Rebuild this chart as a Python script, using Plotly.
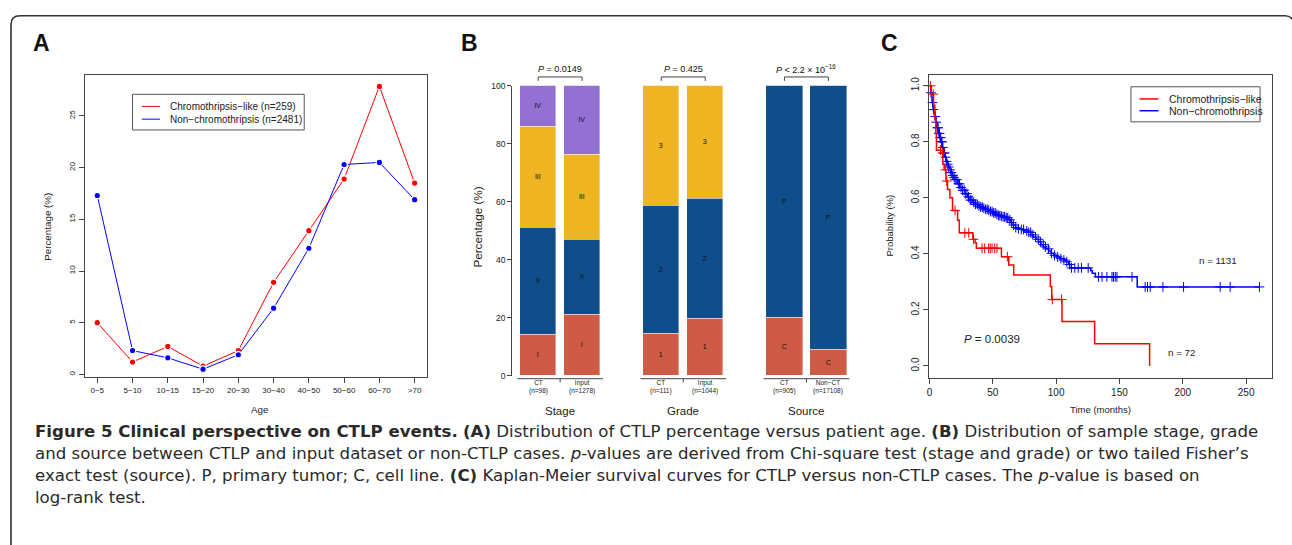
import numpy as np
import plotly.graph_objects as go

# ---------------- data ----------------
# Panel A
age_groups = ["0\u22125", "5\u221210", "10\u221215", "15\u221220", "20\u221230", "30\u221240",
              "40\u221250", "50\u221260", "60\u221270", ">70"]
ct_like_pct = [5.0, 1.2, 2.7, 0.8, 2.3, 8.9, 13.9, 18.9, 27.85, 18.5]
non_ct_pct = [17.3, 2.3, 1.6, 0.5, 1.9, 6.4, 12.2, 20.3, 20.5, 16.9]
a_series_names = ["Chromothripsis\u2212like (n=259)", "Non\u2212chromothripsis (n=2481)"]

# Panel B
stage_levels = ["I", "II", "III", "IV"]
stage_ct = [14.3, 36.7, 34.7, 14.3]
stage_input = [21.2, 25.8, 29.2, 23.8]
grade_levels = ["1", "2", "3"]
grade_ct = [14.4, 44.1, 41.5]
grade_input = [19.6, 41.4, 39.0]
source_levels = ["C", "P"]
source_ct = [19.9, 80.1]
source_nonct = [9.1, 90.9]
bar_labels = ["CT<br>(n=98)", "Input<br>(n=1278)", "CT<br>(n=111)", "Input<br>(n=1044)",
              "CT<br>(n=905)", "Non\u2212CT<br>(n=17108)"]
group_titles = ["Stage", "Grade", "Source"]
group_pvalues = ["<i>P</i> = 0.0149", "<i>P</i> = 0.425",
                 "<i>P</i> < 2.2 \u00d7 10<sup>\u221216</sup>"]

# Panel C (Kaplan-Meier)
red_t = [0, 1.5, 3.2, 4.2, 5.0, 5.5, 8.9, 10.5, 11.6, 13.0, 14.2, 16.1, 18.2, 22.2, 23.5,
         34.2, 36.0, 37.0, 56.8, 62.6, 66.5, 95.4, 96.5, 104.6, 130.4, 173.8]
red_s = [1.0, 0.97, 0.93, 0.88, 0.83, 0.77, 0.76, 0.72, 0.70, 0.66, 0.63, 0.60, 0.555, 0.52, 0.475,
         0.452, 0.44, 0.42, 0.39, 0.36, 0.325, 0.284, 0.237, 0.159, 0.079, 0.0]
red_cens = [0.7, 3.0, 8.7, 10.3, 12.6, 13.6, 20.2, 27.9, 31.0, 34.7, 41.5, 43.6, 46.7, 48.0,
            49.4, 51.5, 53.3, 61.5, 97.0, 104.3]

blue_t = [0, 1, 2, 3, 4, 5, 6, 7, 8, 9, 10, 11, 12, 13, 14, 15, 16, 17, 18, 19, 20, 22, 24, 26,
          28, 30, 32, 34, 36, 38, 40, 42, 44, 46, 48, 50, 52, 54, 56, 58, 60, 62, 64, 66, 68,
          70, 72, 75, 78, 80, 82, 84, 86, 88, 90, 92, 94, 96, 98, 100, 103, 106, 108, 110, 112,
          127.3, 128.5, 131, 164, 261]
blue_s = [1.0, 0.975, 0.94, 0.915, 0.89, 0.87, 0.85, 0.83, 0.815, 0.80, 0.78, 0.76, 0.745, 0.73,
          0.72, 0.71, 0.70, 0.69, 0.68, 0.672, 0.665, 0.65, 0.637, 0.627, 0.615, 0.603, 0.592,
          0.584, 0.577, 0.571, 0.567, 0.563, 0.559, 0.556, 0.551, 0.546, 0.541, 0.537, 0.535,
          0.532, 0.529, 0.522, 0.512, 0.503, 0.494, 0.49, 0.487, 0.482, 0.477, 0.468, 0.46,
          0.452, 0.443, 0.433, 0.425, 0.418, 0.41, 0.402, 0.395, 0.389, 0.383, 0.378, 0.372,
          0.362, 0.35, 0.34, 0.331, 0.318, 0.282, 0.282]
blue_cens = [1.2, 2.4, 3.1, 4.6, 5.3, 6.2, 6.8, 7.4, 7.9, 8.3, 8.8, 9.4, 9.9, 10.6, 11.2, 11.9,
             12.7, 13.5, 14.4, 15.1, 16.3, 17.2, 18.4, 19.5, 20.3, 21.6, 22.8, 23.7, 24.9, 26.1,
             27.4, 28.3, 29.6, 30.8, 32.2, 33.5, 34.9, 36.3, 37.8, 39.1, 40.4, 41.7, 42.9, 44.3,
             45.6, 46.8, 48.2, 49.5, 50.7, 51.9, 53.2, 54.4, 55.6, 56.9, 58.1, 59.3, 60.6, 61.8,
             63.4, 64.9, 66.3, 68.1, 70.2, 72.5, 74.3, 76.8, 78.4, 79.9, 81.6, 83.7, 85.9, 87.6,
             89.8, 91.5, 93.9, 96.3, 98.7, 101.2, 103.8, 106.1, 108.4, 110.6, 112.1, 114.7, 117.4,
             120.0, 125.3, 133.5, 136.2, 140.1, 144.1, 145.3, 146.7, 148.0, 159.9, 170.3, 172.1,
             174.3, 184.3, 200.6, 229.5, 237.4, 260.5]
c_series_names = ["Chromothripsis\u2212like", "Non\u2212chromothripsis"]
n_labels = ["n = 72", "n = 1131"]
km_pvalue = "<i>P</i> = 0.0039"

caption_lines = [
    "<b>Figure 5 Clinical perspective on CTLP events.</b> <b>(A)</b> Distribution of CTLP percentage versus patient age. <b>(B)</b> Distribution of sample stage, grade",
    "and source between CTLP and input dataset or non-CTLP cases. <i>p</i>-values are derived from Chi-square test (stage and grade) or two tailed Fisher\u2019s",
    "exact test (source). P, primary tumor; C, cell line. <b>(C)</b> Kaplan-Meier survival curves for CTLP versus non-CTLP cases. The <i>p</i>-value is based on",
    "log-rank test.",
]

# ---------------- layout helpers ----------------
W, H = 1292, 545
def px(x):
    return x / W
def py(y):
    return 1 - y / H

FONT = "Liberation Sans, Arial, sans-serif"
RED = "#FF0000"
BLUE = "#0000FF"
AX = "#444444"
LEVEL_COLORS = {"I": "#CD5B45", "II": "#104E8B", "III": "#EEB422", "IV": "#9370D3",
                "1": "#CD5B45", "2": "#104E8B", "3": "#EEB422",
                "C": "#CD5B45", "P": "#104E8B"}
BAR_POS = [0, 1.2, 3.36, 4.56, 6.72, 7.92]

fig = go.Figure()

# ---------------- Panel A ----------------
xa = list(range(len(age_groups)))
for vals, col, nm in [(ct_like_pct, RED, a_series_names[0]), (non_ct_pct, BLUE, a_series_names[1])]:
    fig.add_trace(go.Scatter(x=xa, y=vals, mode="lines+markers", name=nm,
                             line=dict(color=col, width=1),
                             marker=dict(color=col, size=6.5, line=dict(color="white", width=1.3)),
                             xaxis="x", yaxis="y", showlegend=False, cliponaxis=False))

# ---------------- Panel B ----------------
groups = [(stage_levels, stage_ct, stage_input, BAR_POS[0:2]),
          (grade_levels, grade_ct, grade_input, BAR_POS[2:4]),
          (source_levels, source_ct, source_nonct, BAR_POS[4:6])]
for levels, a_vals, b_vals, pos in groups:
    for i, lv in enumerate(levels):
        fig.add_trace(go.Bar(x=pos, y=[a_vals[i], b_vals[i]], width=1.0,
                             marker=dict(color=LEVEL_COLORS[lv],
                                         line=dict(color="rgba(255,255,255,0.55)", width=0.7)),
                             text=[lv, lv], textposition="inside", insidetextanchor="middle",
                             textangle=0, constraintext="none",
                             textfont=dict(size=7, color="#111111", family=FONT),
                             xaxis="x2", yaxis="y2", showlegend=False))

# ---------------- Panel C ----------------
def step_at(ts, ss, t):
    i = int(np.searchsorted(np.array(ts), t, side="right")) - 1
    return ss[max(i, 0)]

for ts, ss, cens, col, nm in [(blue_t, blue_s, blue_cens, BLUE, c_series_names[1]),
                              (red_t, red_s, red_cens, RED, c_series_names[0])]:
    fig.add_trace(go.Scatter(x=ts, y=ss, mode="lines", line=dict(color=col, width=1.5, shape="hv"),
                             xaxis="x3", yaxis="y3", showlegend=False, name=nm))
    fig.add_trace(go.Scatter(x=cens, y=[step_at(ts, ss, t) for t in cens], mode="markers",
                             marker=dict(symbol="cross-thin", size=7, line=dict(color=col, width=1)),
                             xaxis="x3", yaxis="y3", showlegend=False, cliponaxis=False))

# ---------------- axes ----------------
common = dict(showgrid=False, zeroline=False, linecolor=AX, linewidth=1, ticks="outside",
              tickcolor=AX, tickwidth=1, ticklen=5,
              tickfont=dict(family=FONT, color="#222"))
fig.update_layout(
    xaxis=dict(domain=[px(82.7), px(426)], range=[-0.36, 9.36], tickvals=xa, ticktext=age_groups,
               showline=True, mirror=True, anchor="y", **{**common, "tickfont": dict(family=FONT, size=8, color="#222")}),
    yaxis=dict(domain=[py(379.3), py(71.7)], range=[-0.285, 28.92], tickvals=[0, 5, 10, 15, 20, 25],
               tickangle=-90, showline=True, mirror=True, anchor="x",
               **{**common, "tickfont": dict(family=FONT, size=8, color="#222")}),
    xaxis2=dict(domain=[px(511), px(860)], range=[-0.708, 8.80], showline=False, showticklabels=False,
                ticks="", showgrid=False, zeroline=False, anchor="y2"),
    yaxis2=dict(domain=[py(377.7), py(82.3)], range=[0, 100], tickvals=[0, 20, 40, 60, 80, 100],
                showline=True, anchor="x2",
                **{**common, "ticklen": 4, "tickfont": dict(family=FONT, size=8.5, color="#222")}),
    xaxis3=dict(domain=[px(928.3), px(1272.3)], range=[-0.5, 270.7], tickvals=[0, 50, 100, 150, 200, 250],
                showline=True, mirror=True, anchor="y3",
                **{**common, "tickfont": dict(family=FONT, size=10, color="#222")}),
    yaxis3=dict(domain=[py(380), py(71.7)], range=[-0.043, 1.037], tickvals=[0, 0.2, 0.4, 0.6, 0.8, 1.0],
                tickformat=".1f", tickangle=-90, showline=True, mirror=True, anchor="x3",
                **{**common, "tickfont": dict(family=FONT, size=10, color="#222")}),
    barmode="stack", bargap=0,
    width=W, height=H, margin=dict(l=0, r=0, t=0, b=0),
    paper_bgcolor="white", plot_bgcolor="white", showlegend=False,
)

shapes = []
ann = []

def text(x, y, s, size, anchor="center", angle=0, color="#222", xref="paper", family=FONT):
    ann.append(dict(x=x if xref != "paper" else px(x), y=py(y), xref=xref, yref="paper", text=s,
                    showarrow=False, xanchor=anchor, yanchor="middle", textangle=angle,
                    font=dict(family=family, size=size, color=color)))

# panel letters
text(39.7, 39, "<b>A</b>", 23, color="#111")
text(468, 39, "<b>B</b>", 23, color="#111")
text(889, 39, "<b>C</b>", 23, color="#111")

# axis titles
text(46, 226, "Percentage (%)", 9.8, angle=-90)
text(258, 412.5, "Age", 9.8)
text(476.5, 226, "Percentage (%)", 11.7, angle=-90)
text(889, 225, "Probability (%)", 9.5, angle=-90)
text(1100.3, 412, "Time (months)", 9.5)

# Panel A legend
shapes.append(dict(type="rect", xref="paper", yref="paper", x0=px(130.7), x1=px(302.7),
                   y0=py(127.3), y1=py(91), line=dict(color="#555", width=1)))
for yy, col, nm in [(103.3, RED, a_series_names[0]), (116.3, BLUE, a_series_names[1])]:
    shapes.append(dict(type="line", xref="paper", yref="paper", x0=px(140), x1=px(158.3),
                       y0=py(yy), y1=py(yy), line=dict(color=col, width=1)))
    text(166.5, yy, nm, 10, anchor="left")

# Panel C legend
shapes.append(dict(type="rect", xref="paper", yref="paper", x0=px(1130.7), x1=px(1260),
                   y0=py(119), y1=py(83.3), line=dict(color="#555", width=1)))
for yy, col, nm in [(95.7, RED, c_series_names[0]), (107.7, BLUE, c_series_names[1])]:
    shapes.append(dict(type="line", xref="paper", yref="paper", x0=px(1139.3), x1=px(1158.3),
                       y0=py(yy), y1=py(yy), line=dict(color=col, width=1.5)))
    text(1166.5, yy, nm, 10.5, anchor="left")

# Panel C annotations
text(1218, 260, n_labels[1], 9.8)
text(1181.5, 354, n_labels[0], 9.8)
text(991.5, 340, km_pvalue, 11.5)

# Panel B: brackets, p-values, bottom group axes, labels
for g in range(3):
    p0, p1 = BAR_POS[2 * g], BAR_POS[2 * g + 1]
    mid = (p0 + p1) / 2
    shapes.append(dict(type="line", xref="x2", yref="paper", x0=p0, x1=p1, y0=py(73.3), y1=py(73.3),
                       line=dict(color=AX, width=1)))
    for pp in (p0, p1):
        shapes.append(dict(type="line", xref="x2", yref="paper", x0=pp, x1=pp, y0=py(73.3), y1=py(77.3),
                           line=dict(color=AX, width=1)))
    text(mid, 65.7, group_pvalues[g], 9, xref="x2", color="#111")
    shapes.append(dict(type="line", xref="x2", yref="paper", x0=p0 - 0.57, x1=p1 + 0.57,
                       y0=py(380.7), y1=py(380.7), line=dict(color=AX, width=1)))
    shapes.append(dict(type="line", xref="x2", yref="paper", x0=mid, x1=mid,
                       y0=py(380.7), y1=py(384.5), line=dict(color=AX, width=1)))
    text(mid, 414, group_titles[g], 11.5, xref="x2")
    for k, pp in enumerate((p0, p1)):
        text(pp, 389, bar_labels[2 * g + k], 6.5, xref="x2")

# caption
for i, line in enumerate(caption_lines):
    text(31, 434.5 + 22.4 * i, line, 16.6, anchor="left", color="#2a2a2a",
         family="DejaVu Sans, sans-serif")

# outer rounded frame
def P(x, y):
    return f"{px(x):.5f},{py(y):.5f}"
frame = (f"M {P(9, 560)} L {P(9, 20)} Q {P(9, 11)} {P(18, 11)} L {P(1285, 11)} "
         f"Q {P(1291, 11)} {P(1294, 17)} L {P(1294, 560)}")
shapes.append(dict(type="path", xref="paper", yref="paper", path=frame,
                   line=dict(color="#333", width=1.6)))

fig.update_layout(shapes=shapes, annotations=ann)
fig.write_html("out.html", config={"displayModeBar": False},
               post_script="document.body.style.margin='0';document.body.style.overflow='hidden';")
